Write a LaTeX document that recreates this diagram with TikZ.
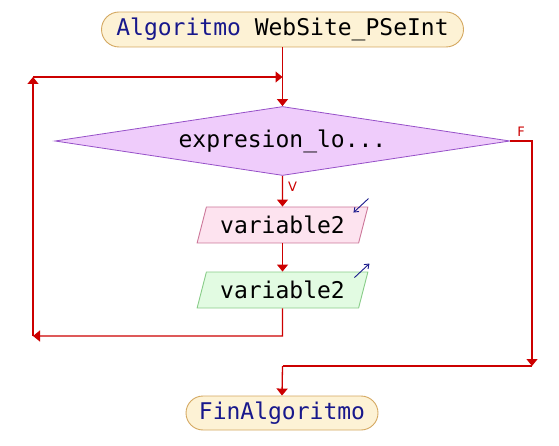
\documentclass[tikz,border=0pt]{standalone}
\usepackage{fontspec}
\setmonofont{DejaVu Sans Mono}
\setsansfont{DejaVu Sans}
\usetikzlibrary{arrows.meta,calc,shapes.geometric,shapes.misc}
\definecolor{flowred}{RGB}{204,0,0}
\definecolor{kwblue}{RGB}{24,24,140}
\definecolor{termfill}{RGB}{253,242,213}
\definecolor{termdraw}{RGB}{212,168,96}
\definecolor{condfill}{RGB}{239,204,251}
\definecolor{conddraw}{RGB}{150,80,200}
\definecolor{readfill}{RGB}{253,227,239}
\definecolor{readdraw}{RGB}{204,119,153}
\definecolor{writefill}{RGB}{226,251,226}
\definecolor{writedraw}{RGB}{136,204,136}
\tikzset{
  codetext/.style={
    font=\ttfamily\fontsize{23}{26}\selectfont,
    text=black,
    inner sep=0pt
  },
  terminal/.style={
    codetext,
    rounded rectangle,
    draw=termdraw,
    fill=termfill,
    line width=0.9pt
  },
  condbox/.style={
    codetext,
    diamond,
    aspect=6.6,
    draw=conddraw,
    fill=condfill,
    line width=0.8pt,
    minimum width=455pt,
    minimum height=69pt
  },
  iobox/.style={
    codetext,
    trapezium,
    trapezium left angle=67,
    trapezium right angle=113,
    trapezium stretches=true,
    line width=0.9pt,
    minimum width=171pt,
    minimum height=36pt
  },
  flow/.style={
    draw=flowred,
    line width=1.3pt,
    -{Triangle[length=7pt,width=11pt]}
  },
  flowline/.style={
    draw=flowred,
    line width=1.3pt
  },
  branchlabel/.style={
    text=flowred,
    font=\sffamily\fontsize{13}{15}\selectfont,
    inner sep=0pt
  },
  iomark/.style={
    draw=kwblue,
    line width=0.9pt,
    -{Straight Barb[length=4pt,width=6pt]}
  }
}
\begin{document}
\begin{tikzpicture}[x=1pt,y=-1pt]
  \useasboundingbox (0,0) rectangle (559,446);

  % Blocks of the flowchart, from top to bottom.
  \node[terminal,minimum width=362pt,minimum height=35pt] (start) at (282.5,29.5)
    {{\color{kwblue}Algoritmo} WebSite\_PSeInt};
  \node[condbox] (cond) at (282.5,141) {expresion\_lo...};
  \node[iobox,draw=readdraw,fill=readfill] (readv) at (282.5,225) {variable2};
  \node[iobox,draw=writedraw,fill=writefill] (writev) at (282.5,290) {variable2};
  \node[terminal,minimum width=192pt,minimum height=34pt] (finish) at (282,413)
    {{\color{kwblue}FinAlgoritmo}};

  % Corner points of the loop and of the false branch.
  \coordinate (join) at (282.5,77);
  \coordinate (loopbot) at (282.5,336);
  \coordinate (loopbl) at (33,336);
  \coordinate (looptl) at (33,77);
  \coordinate (fright) at (532,141);
  \coordinate (fdown) at (532,366);
  \coordinate (fleft) at (282.5,366);

  % Main flow.
  \draw[flow] (start.south) -- (cond.north);
  \draw[flow] (cond.south) -- (readv.north);
  \draw[flow] (readv.south) -- (writev.north);
  \node[branchlabel,anchor=west] (vlabel) at (288,187) {V};

  % Loop back to the condition.
  \draw[flow] (writev.south) -- (loopbot) -- (loopbl);
  \draw[flow] (loopbl) -- (looptl);
  \draw[flow] (looptl) -- (join);

  % False branch leaves the loop.
  \draw[flow] (cond.east) -- (fright) -- (fdown);
  \node[branchlabel,anchor=south] (flabel) at (521,137) {F};
  \draw[flowline] (fdown) -- (fleft);
  \draw[flow] (fleft) -- (finish.north);

  % Read and write marks.
  \draw[iomark] ($(readv.top right corner)+(0,-8)$) -- ++(-15,14);
  \draw[iomark] ($(writev.top right corner)+(-14,6)$) -- ++(15,-14);

\end{tikzpicture}
\end{document}
